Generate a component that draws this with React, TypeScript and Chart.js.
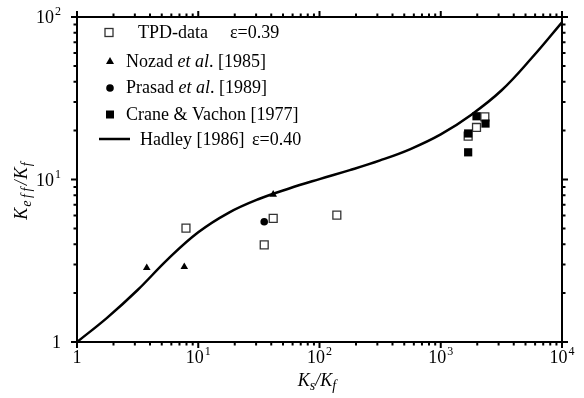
import React, { useEffect, useRef } from 'react';
import { Chart, registerables } from 'chart.js';

Chart.register(...registerables);

// Hadley [1986] model curve, eps = 0.40
const hadleyX = [1, 1.778, 3.162, 5.623, 10, 17.78, 31.62, 56.23, 100, 177.8, 316.2, 562.3, 1000, 1778, 3162, 5623, 10000];
const hadleyY = [1, 1.413, 2.089, 3.236, 4.732, 6.237, 7.586, 8.81, 10.06, 11.42, 13.11, 15.4, 18.95, 24.97, 35.28, 55.91, 92.8];

// TPD-data eps = 0.39
const tpdX = [7.92, 35.0, 41.5, 139, 1683, 1972, 2310];
const tpdY = [5.02, 3.96, 5.76, 6.04, 18.5, 20.9, 24.3];

// Nozad et al. [1985]
const nozadX = [3.76, 7.67, 41.5];
const nozadY = [2.86, 2.9, 8.09];

// Prasad et al. [1989]
const prasadX = [35.0];
const prasadY = [5.49];

// Crane & Vachon [1977]
const craneX = [1683, 1683, 1972, 2340];
const craneY = [19.2, 14.7, 24.5, 22.1];

const xTickValues = [1, 10, 100, 1000, 10000];
const xTickBase = ['1', '10', '10', '10', '10'];
const xTickExp = ['', '1', '2', '3', '4'];
const yTickValues = [1, 10, 100];
const yTickBase = ['1', '10', '10'];
const yTickExp = ['', '1', '2'];

const FONT = '"Liberation Serif", "DejaVu Serif", serif';

const pts = (xs: number[], ys: number[]) => xs.map((x, i) => ({ x, y: ys[i] }));

type Run = { t: string; f: string; dy?: number; sp?: number };

const customPlugin = {
  id: 'customDraw',
  afterDraw(chart: any) {
    const ctx: CanvasRenderingContext2D = chart.ctx;
    const a = chart.chartArea;
    const xs = chart.scales.x;
    const ys = chart.scales.y;
    ctx.save();
    ctx.strokeStyle = '#000';
    ctx.fillStyle = '#000';

    // frame
    ctx.lineWidth = 2;
    ctx.strokeRect(a.left, a.top, a.right - a.left, a.bottom - a.top);

    // ticks
    const majorLen = 6;
    const minorLen = 3.5;
    ctx.lineWidth = 2;
    ctx.beginPath();
    for (let d = 0; d <= 4; d++) {
      for (let m = 1; m <= 9; m++) {
        const v = m * Math.pow(10, d);
        if (v > 10000) break;
        const px = xs.getPixelForValue(v);
        const len = m === 1 ? majorLen : minorLen;
        ctx.moveTo(px, a.bottom);
        ctx.lineTo(px, a.bottom + len);
        ctx.moveTo(px, a.top);
        ctx.lineTo(px, a.top - len);
      }
    }
    for (let d = 0; d <= 2; d++) {
      for (let m = 1; m <= 9; m++) {
        const v = m * Math.pow(10, d);
        if (v > 100) break;
        const py = ys.getPixelForValue(v);
        const len = m === 1 ? majorLen : minorLen;
        ctx.moveTo(a.left, py);
        ctx.lineTo(a.left - len, py);
        ctx.moveTo(a.right, py);
        ctx.lineTo(a.right + len, py);
      }
    }
    ctx.stroke();

    // tick labels
    const baseFont = `18px ${FONT}`;
    const supFont = `12px ${FONT}`;
    ctx.textBaseline = 'alphabetic';
    ctx.textAlign = 'left';
    xTickValues.forEach((v, i) => {
      const px = xs.getPixelForValue(v);
      ctx.font = baseFont;
      const wb = ctx.measureText(xTickBase[i]).width;
      ctx.font = supFont;
      const we = xTickExp[i] ? ctx.measureText(xTickExp[i]).width + 1 : 0;
      const start = px - (wb + we) / 2;
      ctx.font = baseFont;
      ctx.fillText(xTickBase[i], start, 363);
      if (xTickExp[i]) {
        ctx.font = supFont;
        ctx.fillText(xTickExp[i], start + wb + 1, 363 - 8);
      }
    });
    yTickValues.forEach((v, i) => {
      const py = ys.getPixelForValue(v);
      const right = 61;
      ctx.font = supFont;
      const we = yTickExp[i] ? ctx.measureText(yTickExp[i]).width + 1 : 0;
      ctx.font = baseFont;
      const wb = ctx.measureText(yTickBase[i]).width;
      const start = right - we - wb;
      ctx.fillText(yTickBase[i], start, py + 6);
      if (yTickExp[i]) {
        ctx.font = supFont;
        ctx.fillText(yTickExp[i], start + wb + 1, py + 6 - 8);
      }
    });

    // axis titles
    const it = `italic 18px ${FONT}`;
    const itSub = `italic 14px ${FONT}`;
    const up = `18px ${FONT}`;
    const runWidth = (r: Run) => {
      ctx.font = r.f;
      let w = 0;
      for (const ch of r.t) w += ctx.measureText(ch).width + (r.sp || 0);
      return w;
    };
    const drawRuns = (runs: Run[], cx: number, by: number) => {
      let total = 0;
      runs.forEach((r) => (total += runWidth(r)));
      let x = cx - total / 2;
      runs.forEach((r) => {
        ctx.font = r.f;
        for (const ch of r.t) {
          ctx.fillText(ch, x, by + (r.dy || 0));
          x += ctx.measureText(ch).width + (r.sp || 0);
        }
      });
    };
    drawRuns(
      [
        { t: 'K', f: it },
        { t: 's', f: itSub, dy: 4 },
        { t: '/', f: it },
        { t: 'K', f: it },
        { t: 'f', f: itSub, dy: 4 },
      ],
      317,
      386
    );
    ctx.save();
    ctx.translate(27, 190);
    ctx.rotate(-Math.PI / 2);
    drawRuns(
      [
        { t: 'K', f: it, sp: 1 },
        { t: 'eff', f: itSub, dy: 4, sp: 2.5 },
        { t: '/', f: it, sp: 1 },
        { t: 'K', f: it, sp: 1 },
        { t: 'f', f: itSub, dy: 4, sp: 2 },
      ],
      0,
      0
    );
    ctx.restore();

    // legend
    const legText = (runs: Run[], x: number, cy: number) => {
      let cx = x;
      runs.forEach((r) => {
        ctx.font = r.f;
        ctx.fillText(r.t, cx, cy + 6);
        cx += ctx.measureText(r.t).width;
      });
    };
    // row 1: open square
    ctx.lineWidth = 1.3;
    ctx.strokeStyle = '#333';
    ctx.fillStyle = '#fff';
    ctx.fillRect(105, 28.5, 8, 8);
    ctx.strokeRect(105, 28.5, 8, 8);
    ctx.fillStyle = '#000';
    legText([{ t: 'TPD-data', f: up }], 138, 32);
    legText([{ t: '\u03b5=0.39', f: up }], 230, 32);
    // row 2: triangle
    ctx.beginPath();
    ctx.moveTo(110, 57);
    ctx.lineTo(114, 64);
    ctx.lineTo(106, 64);
    ctx.closePath();
    ctx.fill();
    legText(
      [
        { t: 'Nozad ', f: up },
        { t: 'et al', f: it },
        { t: '. [1985]', f: up },
      ],
      126,
      61
    );
    // row 3: circle
    ctx.beginPath();
    ctx.arc(110, 88, 3.8, 0, Math.PI * 2);
    ctx.fill();
    legText(
      [
        { t: 'Prasad ', f: up },
        { t: 'et al', f: it },
        { t: '. [1989]', f: up },
      ],
      126,
      87
    );
    // row 4: filled square
    ctx.fillRect(106, 110.5, 8, 8);
    legText([{ t: 'Crane & Vachon [1977]', f: up }], 126, 114);
    // row 5: line
    ctx.strokeStyle = '#000';
    ctx.lineWidth = 2.5;
    ctx.beginPath();
    ctx.moveTo(99, 139);
    ctx.lineTo(130, 139);
    ctx.stroke();
    legText([{ t: 'Hadley [1986]', f: up }], 140, 139);
    legText([{ t: '\u03b5=0.40', f: up }], 252, 139);

    ctx.restore();
  },
};

export default function App() {
  const ref = useRef<HTMLCanvasElement>(null);
  useEffect(() => {
    document.body.style.margin = '0';
    const canvas = ref.current!;
    const chart = new Chart(canvas, {
      type: 'scatter',
      data: {
        datasets: [
          {
            type: 'line',
            label: 'Hadley [1986]',
            data: pts(hadleyX, hadleyY),
            borderColor: '#000',
            borderWidth: 2.5,
            pointRadius: 0,
            tension: 0.4,
            fill: false,
            order: 5,
          } as any,
          {
            label: 'TPD-data',
            data: pts(tpdX, tpdY),
            pointStyle: 'rect',
            pointRadius: 5.6,
            backgroundColor: '#fff',
            borderColor: '#333',
            borderWidth: 1.3,
            order: 3,
          },
          {
            label: 'Nozad et al. [1985]',
            data: pts(nozadX, nozadY),
            pointStyle: 'triangle',
            pointRadius: 4.4,
            backgroundColor: '#000',
            borderColor: '#000',
            borderWidth: 0,
            order: 2,
          },
          {
            label: 'Prasad et al. [1989]',
            data: pts(prasadX, prasadY),
            pointStyle: 'circle',
            pointRadius: 3.8,
            backgroundColor: '#000',
            borderColor: '#000',
            borderWidth: 0,
            order: 2,
          },
          {
            label: 'Crane & Vachon [1977]',
            data: pts(craneX, craneY),
            pointStyle: 'rect',
            pointRadius: 5.8,
            backgroundColor: '#000',
            borderColor: '#000',
            borderWidth: 0,
            order: 1,
          },
        ],
      },
      options: {
        animation: false,
        responsive: false,
        devicePixelRatio: 1,
        layout: { padding: { top: 17, right: 22, left: 0, bottom: 0 } },
        plugins: { legend: { display: false }, tooltip: { enabled: false } },
        scales: {
          x: {
            type: 'logarithmic',
            min: 1,
            max: 10000,
            grid: { display: false },
            border: { display: false },
            ticks: { display: false },
            afterFit: (s: any) => {
              s.height = 56;
            },
          },
          y: {
            type: 'logarithmic',
            min: 1,
            max: 100,
            grid: { display: false },
            border: { display: false },
            ticks: { display: false },
            afterFit: (s: any) => {
              s.width = 77;
            },
          },
        },
      },
      plugins: [customPlugin],
    });
    return () => chart.destroy();
  }, []);
  return (
    <div style={{ width: 584, height: 398 }}>
      <canvas ref={ref} width={584} height={398} style={{ width: 584, height: 398, display: 'block' }} />
    </div>
  );
}
